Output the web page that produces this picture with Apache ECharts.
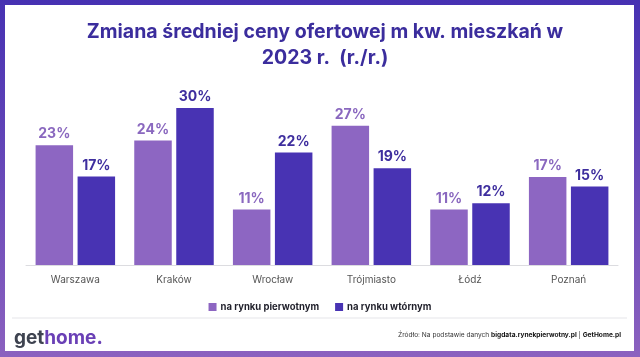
<!DOCTYPE html>
<html><head><meta charset="utf-8">
<script src="https://cdn.jsdelivr.net/npm/echarts@6/dist/echarts.min.js"></script>
<style>html,body{margin:0;padding:0;background:#fff}#c{width:640px;height:357px}</style>
</head><body><div id="c"></div>
<script>
var categories = ['Warszawa','Kraków','Wrocław','Trójmiasto','Łódź','Poznań'];
var primaryMarket = [22.9, 23.8, 10.6, 26.6, 10.6, 16.8];
var secondaryMarket = [16.9, 30.0, 21.5, 18.5, 11.8, 15.0];
var seriesNames = ['na rynku pierwotnym','na rynku wtórnym'];
var titleText = 'Zmiana średniej ceny ofertowej m kw. mieszkań w\n2023 r.  (r./r.)';

var FONT = 'Inter, "Open Sans", sans-serif';
var LIGHT = '#8d66c2', DARK = '#4833b3';
var chart = echarts.init(document.getElementById('c'), null, {renderer:'canvas'});
function lbl(color){
  return {show:true, position:'top', distance:4, color:color, fontFamily:FONT, fontWeight:'bold', fontSize:14,
    formatter:function(p){return Math.round(p.value)+'%';}};
}
chart.setOption({
  animation:false,
  graphic:[
    {type:'rect', z:-10, shape:{x:0,y:0,width:640,height:357},
     style:{fill:new echarts.graphic.LinearGradient(0,0,0,1,[{offset:0,color:'#4631b2'},{offset:1,color:'#8b61bf'}])}},
    {type:'rect', z:-9, shape:{x:5,y:5,width:629,height:346}, style:{fill:'#ffffff'}},
    {type:'rect', z:-8, shape:{x:12,y:317.5,width:615,height:1}, style:{fill:'#e6e6ea'}},
    {type:'text', z:5, x:14, y:338, style:{
      text:'{g|get}{h|home.}', verticalAlign:'middle', align:'left',
      rich:{g:{fontFamily:FONT,fontWeight:'bold',fontSize:19,fill:'#3e4350',color:'#3e4350'},
            h:{fontFamily:FONT,fontWeight:'bold',fontSize:19,fill:'#6a40b6',color:'#6a40b6'}}}},
    {type:'text', z:5, x:621, y:335, style:{
      text:'{n|Źródło: Na podstawie danych }{b|bigdata.rynekpierwotny.pl}{n| | }{b|GetHome.pl}', verticalAlign:'middle', align:'right',
      rich:{n:{fontFamily:FONT,fontSize:6.6,fill:'#333',color:'#333'},
            b:{fontFamily:FONT,fontSize:6.6,fontWeight:'bold',fill:'#111',color:'#111'}}}}
  ],
  title:{text:titleText, left:320, top:14, textAlign:'center',
    textStyle:{fontFamily:FONT, fontWeight:'bold', fontSize:19.5, color:'#3b2d9d', lineHeight:26}},
  legend:{data:seriesNames, top:297, left:'center', icon:'rect', itemWidth:8, itemHeight:8, itemGap:16,
    textStyle:{fontFamily:FONT, fontWeight:'bold', fontSize:9.5, color:'#1f1f2a', padding:[0,0,0,-1]}},
  grid:{left:26, right:22, top:76.6, bottom:92},
  xAxis:{type:'category', data:categories,
    axisLine:{lineStyle:{color:'#dcdce0'}}, axisTick:{show:false},
    axisLabel:{color:'#555', fontFamily:FONT, fontSize:10, margin:10}},
  yAxis:{type:'value', min:0, max:36, show:false, splitLine:{show:false}},
  series:[
    {name:seriesNames[0], type:'bar', data:primaryMarket, barWidth:37.5, barGap:'12%', itemStyle:{color:LIGHT}, label:lbl('#8a68bf')},
    {name:seriesNames[1], type:'bar', data:secondaryMarket, barWidth:37.5, barGap:'12%', itemStyle:{color:DARK}, label:lbl('#3e2e9e')}
  ]
});
</script></body></html>
